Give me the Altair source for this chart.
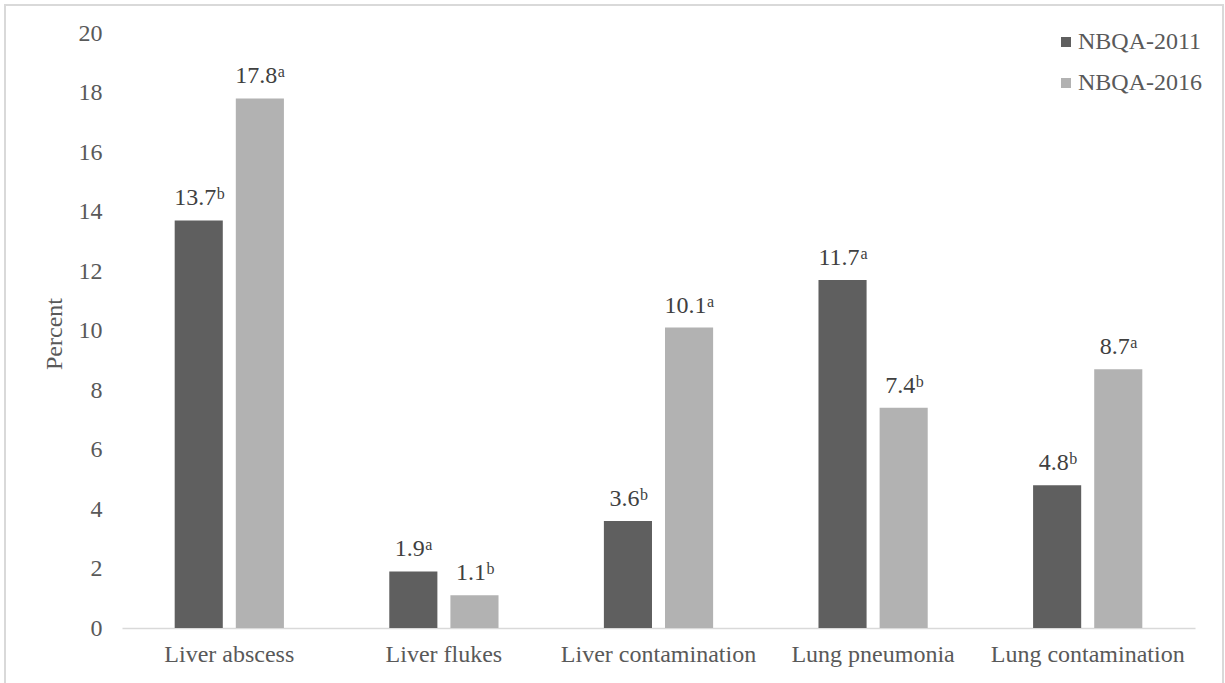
import altair as alt
import pandas as pd

# Carcass findings by survey year
categories = ["Liver abscess", "Liver flukes", "Liver contamination", "Lung pneumonia", "Lung contamination"]
series = ["NBQA-2011", "NBQA-2016"]
values_2011 = [13.7, 1.9, 3.6, 11.7, 4.8]
values_2016 = [17.8, 1.1, 10.1, 7.4, 8.7]
letters_2011 = ["b", "a", "b", "a", "b"]
letters_2016 = ["a", "b", "a", "b", "a"]
y_ticks = list(range(0, 21, 2))

rows = []
for i, cat in enumerate(categories):
    rows.append({"cat": cat, "survey": series[0], "pct": values_2011[i], "sup": letters_2011[i]})
    rows.append({"cat": cat, "survey": series[1], "pct": values_2016[i], "sup": letters_2016[i]})
df = pd.DataFrame(rows)
df["label"] = df["pct"].map(lambda v: f"{v:.1f}")

FONT = "Times New Roman, Liberation Serif, serif"
AXIS_GREY = "#595959"
VALUE_GREY = "#404040"
FS = 24

W, H = 1073, 595

x_enc = alt.X(
    "cat:N",
    sort=categories,
    scale=alt.Scale(paddingInner=0.491, paddingOuter=0.2455),
    axis=alt.Axis(
        title=None, labelAngle=0, tickSize=0, labelPadding=14, labelLimit=0,
        domainColor="#d9d9d9", domainWidth=1.5,
        labelFont=FONT, labelFontSize=FS, labelColor=AXIS_GREY,
    ),
)
xoff = alt.XOffset("survey:N", sort=series, scale=alt.Scale(paddingInner=0.213, paddingOuter=0))
y_enc = alt.Y(
    "pct:Q",
    scale=alt.Scale(domain=[0, 20], nice=False),
    axis=alt.Axis(
        title="Percent", values=y_ticks, tickSize=0, domain=False, grid=False,
        labelPadding=20, labelFont=FONT, labelFontSize=FS, labelColor=AXIS_GREY,
        titleFont=FONT, titleFontSize=FS, titleColor=AXIS_GREY, titleFontWeight="normal",
        titleX=-68, titleY=H / 2 + 3, titleAlign="center", titleBaseline="middle",
    ),
)

base = alt.Chart(df).encode(x=x_enc, xOffset=xoff, y=y_enc)

bars = base.mark_bar().encode(
    color=alt.Color(
        "survey:N",
        sort=series,
        scale=alt.Scale(domain=series, range=["#5f5f5f", "#b2b2b2"]),
        legend=alt.Legend(
            title=None, orient="none", legendX=932, legendY=-3,
            symbolType="square", symbolSize=100, symbolStrokeWidth=0,
            labelFont=FONT, labelFontSize=FS, labelColor=AXIS_GREY,
            labelOffset=0, rowPadding=17, labelLimit=0,
        ),
    )
)

numbers = base.mark_text(
    font=FONT, fontSize=FS, color=VALUE_GREY, align="center",
    baseline="alphabetic", dy=-15, dx=-3.5,
).encode(text="label:N")

sup_long = base.transform_filter("length(datum.label) >= 4").mark_text(
    font=FONT, fontSize=16, color=VALUE_GREY, align="left",
    baseline="alphabetic", dy=-21, dx=18,
).encode(text="sup:N")

sup_short = base.transform_filter("length(datum.label) < 4").mark_text(
    font=FONT, fontSize=16, color=VALUE_GREY, align="left",
    baseline="alphabetic", dy=-21, dx=12,
).encode(text="sup:N")

# thin grey frame around the whole figure
frame = alt.Chart(pd.DataFrame({"k": [0]})).mark_rect(
    fill=None, stroke="#d9d9d9", strokeWidth=2
).encode(
    x=alt.value(-117), x2=alt.value(1101),
    y=alt.value(-28), y2=alt.value(680),
)

chart = alt.layer(frame, bars, numbers, sup_long, sup_short).properties(
    width=W, height=H,
    autosize=alt.AutoSizeParams(type="none"),
    padding={"left": 122, "top": 33, "right": 30, "bottom": 55},
    background="white",
).configure_view(stroke=None)

chart.save("out.html", embed_options={"renderer": "svg", "actions": False})
